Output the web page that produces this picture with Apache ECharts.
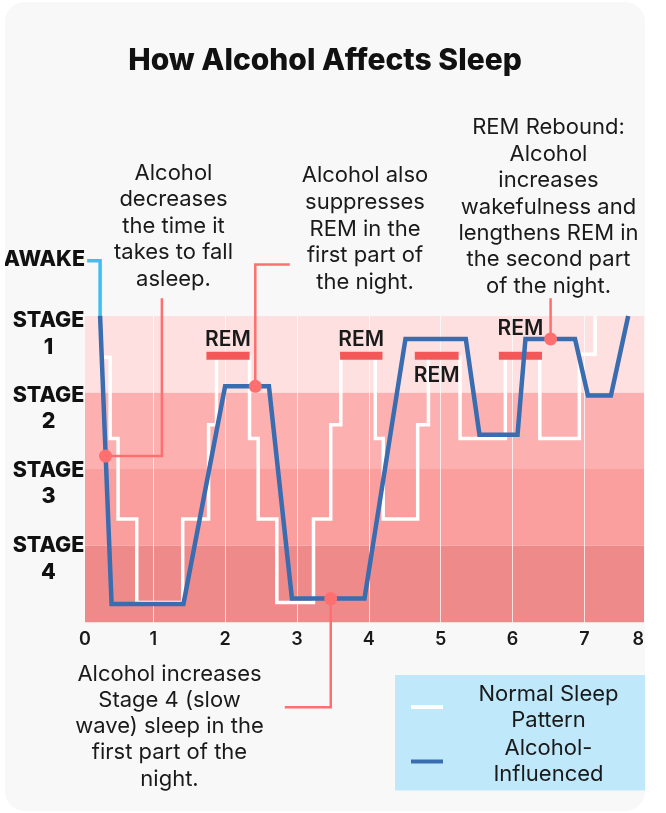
<!DOCTYPE html>
<html>
<head>
<meta charset="utf-8">
<script src="https://cdn.jsdelivr.net/npm/echarts@6/dist/echarts.min.js"></script>
<style>
html,body{margin:0;padding:0;background:#ffffff;}
#card{position:absolute;left:5px;top:2px;width:640px;height:809px;border-radius:20px;overflow:hidden;background:#f8f8f8;}
</style>
</head>
<body>
<div id="card"></div>
<script>
// ---------- data ----------
const chartTitle = 'How Alcohol Affects Sleep';
const hourGridValues = [1, 2, 3, 4, 5, 6, 7];
const hourLabels = ['0', '1', '2', '3', '4', '5', '6', '7', '8'];
const hourMin = 0.05;
const hourMax = 7.83;

const stageNames = ['STAGE 4', 'STAGE 3', 'STAGE 2', 'STAGE 1', 'AWAKE'];
const stageLabelLevels = [0.83, 1.81, 2.79, 3.76, 4.74];
const stageBandFrom = [0, 1, 2, 3];
const stageBandTo = [1, 2, 3, 4];

// Normal sleep pattern (step line, level held until next time)
const normalTimes  = [0.30, 0.40, 0.51, 0.77, 1.41, 1.77, 1.88, 2.34, 2.46, 2.72, 3.23, 3.47, 3.61, 4.09, 4.20, 4.68, 4.83, 5.27, 5.90, 6.38, 6.93, 7.15];
const normalStages = [3.46, 2.40, 1.35, 0.26, 1.35, 2.58, 3.46, 2.40, 1.35, 0.26, 1.35, 2.58, 3.46, 2.40, 1.35, 2.58, 3.46, 2.40, 3.46, 2.40, 3.50, 4.00];

// Alcohol-influenced pattern
const alcoholTimes  = [0.26, 0.42, 1.42, 2.00, 2.61, 2.93, 3.94, 4.51, 5.35, 5.54, 6.07, 6.18, 6.87, 7.05, 7.37, 7.61];
const alcoholStages = [4.00, 0.24, 0.24, 3.08, 3.08, 0.31, 0.31, 3.70, 3.70, 2.45, 2.45, 3.70, 3.70, 2.96, 2.96, 4.00];

// Awake lead-in
const awakeTimes  = [0.08, 0.26, 0.26];
const awakeStages = [4.72, 4.72, 4.00];

// REM periods
const remStarts = [1.74, 3.60, 4.64, 5.81];
const remEnds   = [2.34, 4.19, 5.25, 6.41];
const remLevel  = 3.48;
const remLabel  = 'REM';

// Callouts
const calloutTexts = [
  'Alcohol\ndecreases\nthe time it\ntakes to fall\nasleep.',
  'Alcohol also\nsuppresses\nREM in the\nfirst part of\nthe night.',
  'REM Rebound:\nAlcohol\nincreases\nwakefulness and\nlengthens REM in\nthe second part\nof the night.',
  'Alcohol increases\nStage 4 (slow\nwave) sleep in the\nfirst part of the\nnight.'
];
const calloutDotTimes  = [0.335, 2.42, 6.53, 3.47];
const calloutDotStages = [2.17, 3.08, 3.70, 0.31];
const calloutPathTimes  = [[0.335, 1.12, 1.12], [2.42, 2.42, 2.90], [6.53, 6.53], [3.47, 3.47, 2.83]];
const calloutPathStages = [[2.17, 2.17, 4.23], [3.08, 4.67, 4.67], [3.70, 4.23], [0.31, -1.11, -1.11]];

const legendNames = ['Normal Sleep\nPattern', 'Alcohol-\nInfluenced'];

// ---------- styles ----------
const FONT = 'Inter, "Noto Sans", sans-serif';
const TXT = '#1a1a1a';
const bandColors = ['#ef8a8a', '#fa9e9e', '#fdb0b0', '#ffe0e0'];
const accent = '#ff6f6f';

const zip = (xs, ys) => xs.map((x, i) => [x, ys[i]]);
const nearestIndex = (arr, v) => {
  let best = 0;
  arr.forEach((a, i) => { if (Math.abs(a - v) < Math.abs(arr[best] - v)) best = i; });
  return best;
};

const calloutLayout = [
  {x: 168.5, y: 158, lh: 26.5},
  {x: 360, y: 160.5, lh: 26.6},
  {x: 543.5, y: 112.5, lh: 26.4},
  {x: 164.5, y: 659, lh: 26.2}
];
const remLabelOffsets = [-16, -16, 20, -27];
const hourLabelValues = [hourMin].concat(hourGridValues, [hourMax]);

const chart = echarts.init(document.getElementById('card'), null, {renderer: 'canvas'});

const series = [
  {
    type: 'line', name: '_bands', data: [], z: 1, silent: true,
    markArea: {
      silent: true, z: 1,
      data: stageBandFrom.map((f, i) => [
        {yAxis: f, itemStyle: {color: bandColors[i], opacity: 1}},
        {yAxis: stageBandTo[i]}
      ])
    },
    markLine: {
      silent: true, z: 2, symbol: ['none', 'none'], label: {show: false},
      lineStyle: {color: 'rgba(255,255,255,0.75)', width: 1, type: 'solid'},
      data: hourGridValues.map(h => [
        {coord: [h, stageBandFrom[0]]},
        {coord: [h, stageBandTo[stageBandTo.length - 1]]}
      ])
    }
  },
  {
    type: 'line', name: legendNames[0], step: 'end', color: '#ffffff',
    data: zip(normalTimes, normalStages), showSymbol: false, z: 5, silent: true,
    lineStyle: {color: '#ffffff', width: 3.5, join: 'miter'}
  },
  {
    type: 'line', name: '_awake', data: zip(awakeTimes, awakeStages), showSymbol: false, z: 6,
    silent: true, clip: false,
    lineStyle: {color: '#3cc0f2', width: 3.5, join: 'miter'}
  },
  {
    type: 'custom', name: '_rem', z: 7, silent: true,
    data: remStarts.map((s, i) => [s, remEnds[i], remLevel]),
    renderItem: (params, api) => {
      const a = api.coord([api.value(0), api.value(2)]);
      const b = api.coord([api.value(1), api.value(2)]);
      return {
        type: 'group',
        children: [
          {type: 'rect', shape: {x: a[0], y: a[1] - 4, width: b[0] - a[0], height: 8}, style: {fill: '#f45757'}},
          {type: 'text', style: {
            text: remLabel, x: (a[0] + b[0]) / 2, y: a[1] + remLabelOffsets[params.dataIndex],
            align: 'center', verticalAlign: 'middle', fontSize: 21, fontWeight: 600,
            fontFamily: FONT, fill: TXT
          }}
        ]
      };
    }
  },
  {
    type: 'line', name: legendNames[1], color: '#3a6cb0',
    data: zip(alcoholTimes, alcoholStages), showSymbol: false, z: 8, silent: true,
    lineStyle: {color: '#3a6cb0', width: 4.5, join: 'miter'}
  }
];

calloutPathTimes.forEach((ts, i) => {
  series.push({
    type: 'line', name: '_callout' + i, data: zip(ts, calloutPathStages[i]), showSymbol: false,
    z: 9, clip: false, silent: true,
    lineStyle: {color: accent, width: 2.5, join: 'miter'}
  });
});

series.push({
  type: 'scatter', name: '_dots', data: zip(calloutDotTimes, calloutDotStages),
  symbolSize: 13, z: 10, clip: false, silent: true,
  itemStyle: {color: accent, opacity: 1}
});

const option = {
  animation: false,
  backgroundColor: 'transparent',
  title: {
    text: chartTitle, left: 'center', top: 44, padding: 0,
    textStyle: {fontSize: 30, fontWeight: 800, fontFamily: FONT, color: '#111111'}
  },
  grid: {left: 80, right: 1, top: 237.3, bottom: 188.7, containLabel: false, outerBoundsMode: 'none'},
  xAxis: {
    type: 'value', min: hourMin, max: hourMax,
    axisLine: {show: false},
    axisTick: {show: false},
    splitLine: {show: false},
    axisLabel: {
      customValues: hourLabelValues,
      formatter: v => hourLabels[nearestIndex(hourLabelValues, v)],
      margin: 8, fontSize: 18, fontWeight: 600, fontFamily: FONT, color: TXT,
      alignMaxLabel: 'right'
    }
  },
  yAxis: {
    type: 'value', min: 0, max: 5,
    axisLine: {show: false}, axisTick: {show: false}, splitLine: {show: false},
    axisLabel: {
      customValues: stageLabelLevels,
      margin: 0,
      formatter: v => {
        const n = stageNames[nearestIndex(stageLabelLevels, v)];
        const parts = n.split(' ');
        if (parts.length === 2) return '{s|' + parts[0] + '}\n{s|' + parts[1] + '}';
        return '{w|' + n + '}';
      },
      rich: {
        s: {width: 73, align: 'center', fontSize: 21.5, fontWeight: 800, fontFamily: FONT, color: '#111', lineHeight: 26.7},
        w: {fontSize: 21.5, fontWeight: 800, fontFamily: FONT, color: '#111', lineHeight: 26.7}
      }
    }
  },
  legend: {
    data: legendNames.map(n => ({name: n, icon: 'rect'})),
    orient: 'vertical', left: 390, top: 673,
    padding: [8, 20, 5, 16], itemGap: 6.5, itemWidth: 32, itemHeight: 4,
    backgroundColor: '#bfe9fb', selectedMode: false,
    formatter: name => name.split('\n').map(s => '{t|' + s + '}').join('\n'),
    textStyle: {
      rich: {t: {width: 201, align: 'center', fontSize: 22, lineHeight: 26, fontFamily: FONT, color: TXT}}
    }
  },
  graphic: calloutTexts.map((t, i) => ({
    type: 'text', x: calloutLayout[i].x, y: calloutLayout[i].y, silent: true, z: 100,
    style: {
      text: t, align: 'center', verticalAlign: 'top', fontSize: 22,
      lineHeight: calloutLayout[i].lh, fontFamily: FONT, fill: TXT
    }
  })),
  series: series
};

chart.setOption(option);
</script>
</body>
</html>
